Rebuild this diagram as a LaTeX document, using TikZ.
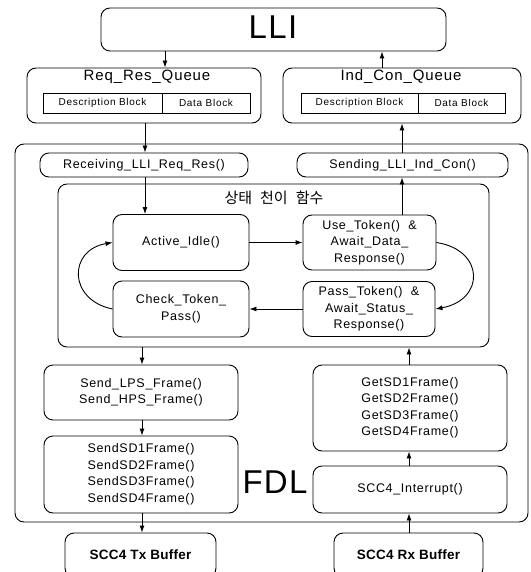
\documentclass[tikz,border=0pt]{standalone}
\usepackage{fontspec}
\setmainfont{Liberation Sans}
\newfontfamily\fnbody[LetterSpace=5.5]{Liberation Sans}
\newfontfamily\fnhead[LetterSpace=6]{Liberation Sans}
\newfontfamily\fnsmall[LetterSpace=7]{Liberation Sans}
\newfontfamily\fnbig[LetterSpace=4]{Liberation Sans}
\newfontfamily\fnbold[LetterSpace=2]{Liberation Sans}
\newfontfamily\fnkr{Noto Sans CJK KR}
\usetikzlibrary{arrows.meta}

\begin{document}
\begin{tikzpicture}[x=1pt, y=-1pt,
  box/.style={draw, line width=0.9pt, rounded corners=9pt, inner sep=0pt,
    align=center, font=\fnbody\fontsize{12.5}{16.5}\selectfont},
  cell/.style={draw, line width=0.8pt, inner sep=0pt, minimum height=20pt,
    font=\fnsmall\fontsize{10}{12}\selectfont},
  qtitle/.style={anchor=base, inner sep=0pt, font=\fnhead\fontsize{15}{15}\selectfont},
  bufbox/.style={box, font=\fnbold\bfseries\fontsize{13.5}{16}\selectfont},
  arr/.style={line width=0.9pt, -{Latex[length=7pt,width=5pt]}}]

\useasboundingbox (0,0) rectangle (530,572);
\fill[white] (0,0) rectangle (530,572);
\clip (0,0) rectangle (530,572);

% arrow columns
\coordinate (c1) at (165,0);
\coordinate (c2) at (382,0);
\coordinate (c3) at (145,0);
\coordinate (c4) at (402,0);
\coordinate (c5) at (142,0);
\coordinate (c6) at (409,0);

% top layer
\node[box, minimum width=345pt, minimum height=43pt] (lli) at (273.5,29.5) {};
\node[anchor=base, inner sep=0pt, font=\fnbig\fontsize{33}{33}\selectfont] (llit) at (273,39) {LLI};

% queues
\node[box, minimum width=234pt, minimum height=55pt] (rq) at (144,95.5) {};
\node[qtitle] (rqt) at (147,81) {Req\_Res\_Queue};
\node[cell, minimum width=119pt] (rqd) at (102.5,103) {Description Block};
\node[cell, minimum width=88pt] (rqb) at (206,103) {Data Block};

\node[box, minimum width=238pt, minimum height=55pt] (ic) at (402,95.5) {};
\node[qtitle] (ict) at (401,81) {Ind\_Con\_Queue};
\node[cell, minimum width=117pt] (icd) at (359.5,103) {Description Block};
\node[cell, minimum width=87pt] (icb) at (461.5,103) {Data Block};

% FDL container
\node[box, minimum width=513pt, minimum height=378pt] (fdl) at (271.5,333) {};
\node[anchor=base, inner sep=0pt, font=\fnbig\fontsize{33}{33}\selectfont] (fdlt) at (275,493) {FDL};

\node[box, minimum width=208pt, minimum height=24pt] (recv) at (144,165) {Receiving\_LLI\_Req\_Res()};
\node[box, minimum width=211pt, minimum height=24pt] (send) at (402.5,165) {Sending\_LLI\_Ind\_Con()};

% state transition functions
\node[box, minimum width=431pt, minimum height=163pt] (state) at (273.5,265.5) {};
\node[inner sep=0pt, font=\fnkr\fontsize{15}{15}\selectfont] (stt) at (274,198) {상태\hspace{8pt}천이\hspace{8pt}함수};

\node[box, minimum width=136pt, minimum height=56pt] (idle) at (181,242.5) {Active\_Idle()};
\node[box, minimum width=133pt, minimum height=55pt] (use) at (369.5,242.5) {Use\_Token()~~\&\\Await\_Data\_\\Response()};
\node[box, minimum width=136pt, minimum height=56pt] (check) at (181,309) {Check\_Token\_\\Pass()};
\node[box, minimum width=132pt, minimum height=55pt] (pass) at (369,309) {Pass\_Token()~~\&\\Await\_Status\_\\Response()};

% transmit side
\node[box, minimum width=194pt, minimum height=55pt] (lps) at (141,392.5) {Send\_LPS\_Frame()\\Send\_HPS\_Frame()};
\node[box, minimum width=194pt, minimum height=77pt] (sd) at (141,474.5) {SendSD1Frame()\\SendSD2Frame()\\SendSD3Frame()\\SendSD4Frame()};
\node[bufbox, minimum width=151pt, minimum height=44pt] (tx) at (140.5,555) {SCC4 Tx Buffer};

% receive side
\node[box, minimum width=194pt, minimum height=86pt] (get) at (410,408) {GetSD1Frame()\\GetSD2Frame()\\GetSD3Frame()\\GetSD4Frame()};
\node[box, minimum width=194pt, minimum height=47pt] (intr) at (410,489.5) {SCC4\_Interrupt()};
\node[bufbox, minimum width=149pt, minimum height=44pt] (rx) at (408.5,555) {SCC4 Rx Buffer};

% connectors
\draw[arr] (lli.south -| c1) -- (rq.north -| c1);
\draw[arr] (ic.north -| c2) -- (lli.south -| c2);
\draw[arr] (rq.south -| c3) -- (recv.north -| c3);
\draw[arr] (send.north -| c4) -- (ic.south -| c4);
\draw[arr] (recv.south -| c3) -- (idle.north -| c3);
\draw[arr] (use.north -| c4) -- (send.south -| c4);

\draw[arr] (idle.east) -- (use.west);
\draw[arr] (pass.west) -- (check.east);
\draw[arr] (use.east) .. controls (485,250) and (485,300) .. (pass.east);
\draw[arr] (check.west) .. controls (68,300) and (68,250) .. (idle.west);

\draw[arr] (state.south -| c5) -- (lps.north -| c5);
\draw[arr] (lps.south -| c5) -- (sd.north -| c5);
\draw[arr] (sd.south -| c5) -- (tx.north -| c5);

\draw[arr] (rx.north -| c6) -- (intr.south -| c6);
\draw[arr] (intr.north -| c6) -- (get.south -| c6);
\draw[arr] (get.north -| c6) -- (state.south -| c6);
\end{tikzpicture}
\end{document}
